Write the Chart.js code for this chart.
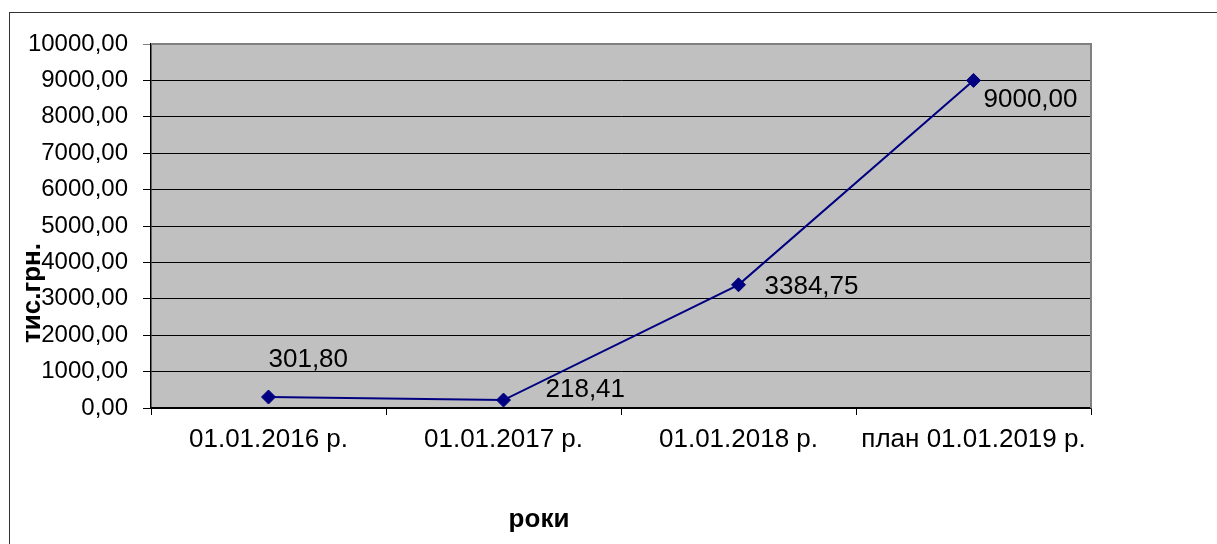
<!DOCTYPE html>
<html>
<head>
<meta charset="utf-8">
<script src="https://cdn.jsdelivr.net/npm/chart.js@4.4.1/dist/chart.umd.min.js"></script>
<style>
  html, body { margin: 0; padding: 0; background: #fff; }
  #wrap { width: 1217px; height: 544px; position: relative; }
</style>
</head>
<body>
<div id="wrap"><canvas id="c"></canvas></div>
<script>
// ---- data ----
const categories = ['01.01.2016 р.', '01.01.2017 р.', '01.01.2018 р.', 'план 01.01.2019 р.'];
const values = [301.80, 218.41, 3384.75, 9000.00];
const yTicks = { min: 0, max: 10000, step: 1000 };
const yTitle = 'тис.грн.';
const xTitle = 'роки';

// ---- styling ----
const FONT = "'Liberation Sans', Arial, sans-serif";
const labelOffsets = [[0, -30], [42, -3], [26, 9], [10, 27]]; // label placement relative to point (style)
const fmt = v => v.toFixed(2).replace('.', ',');

const framePlugin = {
  id: 'frame',
  beforeDraw(chart) {
    const { ctx, chartArea: a } = chart;
    ctx.save();
    ctx.fillStyle = '#fff';
    ctx.fillRect(0, 0, chart.width, chart.height);
    ctx.strokeStyle = '#333';
    ctx.lineWidth = 1;
    ctx.strokeRect(9.5, 12.5, chart.width + 20, chart.height + 20);
    ctx.fillStyle = '#C0C0C0';
    ctx.fillRect(a.left, a.top, a.right - a.left, a.bottom - a.top);
    ctx.restore();
  },
  beforeDatasetsDraw(chart) {
    const { ctx, chartArea: a } = chart;
    ctx.save();
    ctx.strokeStyle = '#808080';
    ctx.lineWidth = 2;
    ctx.beginPath();
    ctx.moveTo(a.left, a.top);
    ctx.lineTo(a.right, a.top);
    ctx.lineTo(a.right, a.bottom);
    ctx.stroke();
    ctx.restore();
  },
  afterDraw(chart) {
    const { ctx } = chart;
    ctx.save();
    ctx.fillStyle = '#000';
    ctx.font = 'bold 26px ' + FONT;
    ctx.textAlign = 'center';
    ctx.textBaseline = 'alphabetic';
    ctx.translate(39.5, 293);
    ctx.rotate(-Math.PI / 2);
    ctx.fillText(yTitle, 0, 0);
    ctx.restore();
    ctx.save();
    ctx.fillStyle = '#000';
    ctx.font = 'bold 26px ' + FONT;
    ctx.textAlign = 'center';
    ctx.textBaseline = 'alphabetic';
    ctx.fillText(xTitle, 539, 527);
    ctx.restore();
  }
};

const valueLabels = {
  id: 'valueLabels',
  afterDatasetsDraw(chart) {
    const { ctx } = chart;
    const meta = chart.getDatasetMeta(0);
    ctx.save();
    ctx.fillStyle = '#000';
    ctx.font = '26px ' + FONT;
    ctx.textAlign = 'left';
    ctx.textBaseline = 'alphabetic';
    meta.data.forEach((pt, i) => {
      const o = labelOffsets[i];
      ctx.fillText(fmt(chart.data.datasets[0].data[i]), pt.x + o[0], pt.y + o[1]);
    });
    ctx.restore();
  }
};

new Chart(document.getElementById('c'), {
  type: 'line',
  data: {
    labels: categories,
    datasets: [{
      data: values,
      borderColor: '#000080',
      backgroundColor: '#000080',
      borderWidth: 2,
      tension: 0,
      pointStyle: 'rectRot',
      pointRadius: 7,
      pointHoverRadius: 7,
      pointBackgroundColor: '#000080',
      pointBorderColor: '#000080',
      pointBorderWidth: 1,
      fill: false
    }]
  },
  options: {
    responsive: true,
    maintainAspectRatio: false,
    animation: false,
    events: [],
    layout: { padding: { left: 0, top: 44, right: 126, bottom: 0 } },
    plugins: { legend: { display: false }, tooltip: { enabled: false }, title: { display: false } },
    scales: {
      x: {
        type: 'category',
        offset: true,
        grid: { offset: true, drawOnChartArea: false, drawTicks: true, tickLength: 7, color: '#000', lineWidth: 1 },
        border: { display: true, color: '#000', width: 1.5 },
        ticks: { color: '#000', font: { family: FONT, size: 26 }, padding: 9, maxRotation: 0, autoSkip: false },
        afterFit(scale) { scale.height = 136; }
      },
      y: {
        min: yTicks.min,
        max: yTicks.max,
        grid: {
          color: c => (c.tick && c.tick.value === yTicks.max) ? '#808080' : '#000',
          lineWidth: 1,
          drawTicks: true,
          tickLength: 8
        },
        border: { display: true, color: '#000', width: 1.5 },
        ticks: {
          stepSize: yTicks.step,
          color: '#000',
          font: { family: FONT, size: 24 },
          padding: 15,
          callback: v => fmt(v)
        },
        afterFit(scale) { scale.width = 151; }
      }
    }
  },
  plugins: [framePlugin, valueLabels]
});
</script>
</body>
</html>
